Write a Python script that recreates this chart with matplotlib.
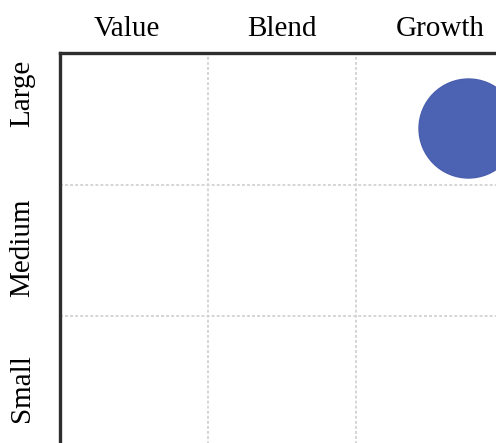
import matplotlib.pyplot as plt

# style box categories
styles = ["Value", "Blend", "Growth"]
sizes = ["Small", "Medium", "Large"]

# fund position inside the 3x3 box
fund_x = [2.76]
fund_y = [2.43]

W, H = 496, 443
fig = plt.figure(figsize=(W / 100, H / 100), dpi=100)
plt.rcParams['font.family'] = ['Liberation Serif', 'DejaVu Serif']

# axes run past the right and bottom edge like the cropped original
left, top = 60, 53
cell_w, cell_h = 148, 131.5
ax = fig.add_axes([left / W, 1 - (top + 3 * cell_h) / H, 3 * cell_w / W, 3 * cell_h / H])
ax.set_xlim(0, 3)
ax.set_ylim(0, 3)

for v in [1, 2]:
    ax.axvline(v, color="#d2d2d2", lw=1.3, ls=(0, (1.6, 1.2)), zorder=1)
    ax.axhline(v, color="#d2d2d2", lw=1.3, ls=(0, (1.6, 1.2)), zorder=1)

ax.scatter(fund_x, fund_y, s=5080, color="#4c63b3", edgecolor="#4a5fae",
           linewidth=1, zorder=3, clip_on=False)

ax.xaxis.tick_top()
ax.set_xticks([0.45, 1.5, 2.57])
ax.set_xticklabels(styles, fontsize=21)
ax.set_yticks([0.45, 1.52, 2.69])
ax.set_yticklabels(sizes, fontsize=21, rotation=90, va="center")
ax.tick_params(length=0, pad=8)
ax.tick_params(axis="y", pad=18)

for side in ["top", "left", "right", "bottom"]:
    ax.spines[side].set_color("#2e2e2e")
    ax.spines[side].set_linewidth(2.4)

fig.savefig("out.png", dpi=100)
